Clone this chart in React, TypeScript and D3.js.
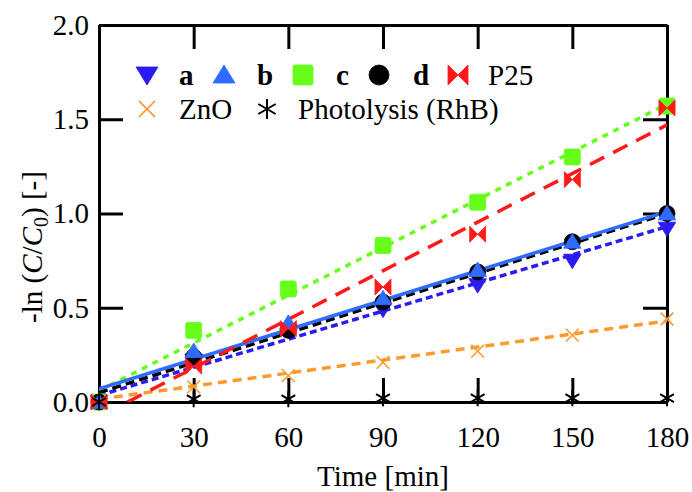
import React from 'react';
import * as d3 from 'd3';

// time points [min]
const times = [0, 30, 60, 90, 120, 150, 180];

// -ln(C/C0)
const seriesA = [0, 0.22, 0.38, 0.49, 0.62, 0.75, 0.92];
const seriesB = [0, 0.27, 0.42, 0.55, 0.70, 0.85, 1.0];
const seriesC = [0, 0.38, 0.60, 0.83, 1.06, 1.30, 1.57];
const seriesD = [0, 0.24, 0.38, 0.53, 0.69, 0.85, 1.0];
const seriesP25 = [0, 0.19, 0.39, 0.61, 0.89, 1.18, 1.56];
const seriesZnO = [0, 0.08, 0.14, 0.21, 0.27, 0.355, 0.44];
const seriesPhoto = [0, 0.015, 0.015, 0.02, 0.02, 0.02, 0.02];

// linear fit end points [t, value]
const fitA = [[0, 0.035], [180, 0.93]];
const fitB = [[0, 0.07], [180, 1.01]];
const fitC = [[0, 0.06], [180, 1.58]];
const fitD = [[0, 0.05], [180, 1.0]];
const fitP25 = [[9, 0], [180, 1.47]];
const fitZnO = [[0, 0.015], [180, 0.43]];

const xTicks = [0, 30, 60, 90, 120, 150, 180];
const yTicks = [0, 0.5, 1.0, 1.5, 2.0];

const FONT = "'Liberation Serif', 'Times New Roman', serif";

const markerPath = (kind, s) => {
  const h = s / 2;
  switch (kind) {
    case 'down':
      return `M${-h * 1.1},${-h * 0.8}L${h * 1.1},${-h * 0.8}L0,${h}Z`;
    case 'up':
      return `M${-h * 1.1},${h * 0.8}L${h * 1.1},${h * 0.8}L0,${-h}Z`;
    case 'square': {
      const r = 2;
      return `M${-h + r},${-h}H${h - r}Q${h},${-h} ${h},${-h + r}V${h - r}Q${h},${h} ${h - r},${h}H${-h + r}Q${-h},${h} ${-h},${h - r}V${-h + r}Q${-h},${-h} ${-h + r},${-h}Z`;
    }
    case 'circle':
      return `M${h},0A${h},${h} 0 1,1 ${-h},0A${h},${h} 0 1,1 ${h},0Z`;
    case 'bowtie':
      return `M${-h},${-h}L0,0L${-h},${h}Z M${h},${-h}L0,0L${h},${h}Z`;
    case 'x':
      return `M${-h * 0.85},${-h * 0.85}L${h * 0.85},${h * 0.85}M${-h * 0.85},${h * 0.85}L${h * 0.85},${-h * 0.85}`;
    case 'asterisk': {
      const c = Math.cos(Math.PI / 6) * h, sn = Math.sin(Math.PI / 6) * h;
      return `M0,${-h}L0,${h}M${-c},${-sn}L${c},${sn}M${-c},${sn}L${c},${-sn}`;
    }
    default:
      return '';
  }
};

const series = [
  { name: 'ZnO', values: seriesZnO, fit: fitZnO, color: '#ff9a2e', marker: 'x', dash: '9,6', stroke: true },
  { name: 'a', values: seriesA, fit: fitA, color: '#2a1cf0', marker: 'down', dash: '7,4' },
  { name: 'c', values: seriesC, fit: fitC, color: '#66ff1a', marker: 'square', dash: '6,6' },
  { name: 'd', values: seriesD, fit: fitD, color: '#000000', marker: 'circle', dash: '9,5' },
  { name: 'b', values: seriesB, fit: fitB, color: '#2f6bff', marker: 'up', dash: null },
  { name: 'P25', values: seriesP25, fit: fitP25, color: '#ff1a1a', marker: 'bowtie', dash: '16,10' },
  { name: 'Photolysis (RhB)', values: seriesPhoto, fit: null, color: '#000000', marker: 'asterisk', dash: null, stroke: true },
];

const App = () => {
  const svgRef = React.useRef(null);

  const width = 692;
  const height = 492;
  const left = 99, right = 667, top = 25, bottom = 402;

  React.useEffect(() => {
    const svg = d3.select(svgRef.current);
    svg.selectAll('*').remove();

    const x = d3.scaleLinear().domain([0, 180]).range([left, right]);
    const y = d3.scaleLinear().domain([0, 2]).range([bottom, top]);

    const tick = 24;

    // axes (inward ticks on all four sides)
    const gx = svg.append('g')
      .attr('transform', `translate(0,${bottom})`)
      .call(d3.axisBottom(x).tickValues(xTicks).tickSize(-tick).tickSizeOuter(0).tickPadding(24));
    const gy = svg.append('g')
      .attr('transform', `translate(${left},0)`)
      .call(d3.axisLeft(y).tickValues(yTicks).tickFormat(d3.format('.1f')).tickSize(-tick).tickSizeOuter(0).tickPadding(10));
    const gt = svg.append('g')
      .attr('transform', `translate(0,${top})`)
      .call(d3.axisTop(x).tickValues(xTicks).tickSize(-tick).tickSizeOuter(0).tickFormat(() => ''));
    const gr = svg.append('g')
      .attr('transform', `translate(${right},0)`)
      .call(d3.axisRight(y).tickValues(yTicks).tickSize(-tick).tickSizeOuter(0).tickFormat(() => ''));

    [gx, gy, gt, gr].forEach((g) => {
      g.selectAll('path, line').attr('stroke', '#000').attr('stroke-width', 3);
      g.selectAll('text')
        .attr('fill', '#000')
        .style('font-family', FONT)
        .style('font-size', '29px');
    });

    // fit lines
    const clip = svg.append('clipPath').attr('id', 'plotclip')
      .append('rect').attr('x', left).attr('y', top).attr('width', right - left).attr('height', bottom - top);

    const line = d3.line().x((d) => x(d[0])).y((d) => y(d[1]));
    const lines = svg.append('g').attr('clip-path', 'url(#plotclip)');
    series.filter((s) => s.fit).forEach((s) => {
      lines.append('path')
        .attr('d', line(s.fit))
        .attr('fill', 'none')
        .attr('stroke', s.color)
        .attr('stroke-width', 3.5)
        .attr('stroke-dasharray', s.dash);
    });

    // markers
    const drawMarker = (g, s, cx, cy, size) => {
      const p = g.append('path')
        .attr('d', markerPath(s.marker, size))
        .attr('transform', `translate(${cx},${cy})`);
      if (s.stroke) {
        p.attr('fill', 'none').attr('stroke', s.color).attr('stroke-width', s.marker === 'x' ? 1.6 : 2);
      } else {
        p.attr('fill', s.color).attr('stroke', s.color).attr('stroke-width', 0.8).attr('stroke-linejoin', 'round');
      }
    };

    const pts = svg.append('g');
    series.forEach((s) => {
      s.values.forEach((v, i) => {
        drawMarker(pts, s, x(times[i]), y(v), s.marker === 'x' ? 15 : 16);
      });
    });

    // legend
    const legendRows = [
      [
        { s: series[1], mx: 147, tx: 179, label: 'a', bold: true },
        { s: series[4], mx: 224, tx: 257, label: 'b', bold: true },
        { s: series[2], mx: 303, tx: 336, label: 'c', bold: true },
        { s: series[3], mx: 379, tx: 413, label: 'd', bold: true },
        { s: series[5], mx: 458, tx: 488, label: 'P25', bold: false },
      ],
      [
        { s: series[0], mx: 147, tx: 179, label: 'ZnO', bold: false },
        { s: series[6], mx: 267, tx: 298, label: 'Photolysis (RhB)', bold: false },
      ],
    ];
    const rowY = [75, 109];
    const leg = svg.append('g');
    legendRows.forEach((row, r) => {
      row.forEach((it) => {
        drawMarker(leg, it.s, it.mx, rowY[r], it.s.marker === 'x' ? 19 : 20);
        leg.append('text')
          .attr('x', it.tx)
          .attr('y', rowY[r] + 10)
          .style('font-family', FONT)
          .style('font-size', '29px')
          .style('font-weight', it.bold ? 'bold' : 'normal')
          .text(it.label);
      });
    });

    // axis titles
    svg.append('text')
      .attr('x', (left + right) / 2)
      .attr('y', 486)
      .style('text-anchor', 'middle')
      .style('font-family', FONT)
      .style('font-size', '29px')
      .text('Time [min]');

    const yl = svg.append('text')
      .attr('transform', `translate(42,247) rotate(-90)`)
      .style('text-anchor', 'middle')
      .style('font-family', FONT)
      .style('font-size', '29px');
    yl.append('tspan').text('-ln (');
    yl.append('tspan').style('font-style', 'italic').text('C');
    yl.append('tspan').text('/');
    yl.append('tspan').style('font-style', 'italic').text('C');
    yl.append('tspan').attr('dy', 6).style('font-size', '20px').text('0');
    yl.append('tspan').attr('dy', -6).text(') [-]');

  // eslint-disable-next-line react-hooks/exhaustive-deps
  }, []);

  return (
    <svg
      ref={svgRef}
      width={width}
      height={height}
      style={{ position: 'absolute', left: 0, top: 0, background: '#fff' }}
    />
  );
};

export default App;
